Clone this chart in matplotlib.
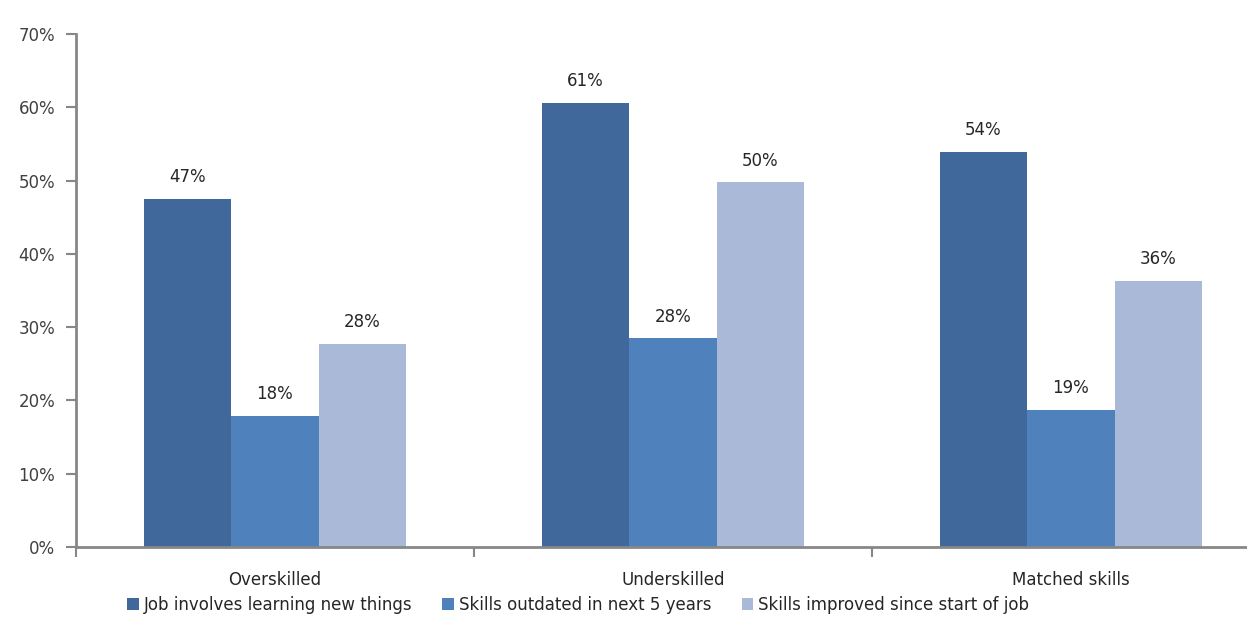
import numpy as np
import matplotlib
matplotlib.use("Agg")
import matplotlib.pyplot as plt
from matplotlib.patches import Patch

# Values (percent)
categories = ["Overskilled", "Underskilled", "Matched skills"]
series_names = ["Job involves learning new things",
                "Skills outdated in next 5 years",
                "Skills improved since start of job"]
learning_new = [47.5, 60.6, 53.9]
outdated_5yrs = [17.9, 28.5, 18.7]
improved_since = [27.7, 49.8, 36.3]
bar_labels = [["47%", "61%", "54%"],
              ["18%", "28%", "19%"],
              ["28%", "50%", "36%"]]
colors = ["#41689A", "#4F81BD", "#A9B9D7"]

fig = plt.figure(figsize=(12.47, 6.37), dpi=100)
# axis runs past the right edge of the picture, like the cropped original
ax = fig.add_axes([76 / 1247, 90 / 637, 1194 / 1247, 513 / 637])

x = np.arange(len(categories))
width = 0.22
series = [learning_new, outdated_5yrs, improved_since]
for i, vals in enumerate(series):
    bars = ax.bar(x + (i - 1) * width, vals, width, color=colors[i], label=series_names[i])
    ax.bar_label(bars, labels=bar_labels[i], padding=9, fontsize=12, color="#262626")

ax.set_xlim(-0.5, 2.5)
ax.set_ylim(0, 70)
ax.set_yticks(np.arange(0, 71, 10))
ax.set_yticklabels([f"{v}%" for v in range(0, 71, 10)])

ax.set_xticks(x)
ax.set_xticklabels(categories)
ax.set_xticks([-0.5, 0.5, 1.5], minor=True)
ax.tick_params(axis="x", which="major", length=0, pad=17, labelsize=12, labelcolor="#262626")
ax.tick_params(axis="x", which="minor", length=7, width=1.5, color="#878787")
ax.tick_params(axis="y", length=7, width=1.5, color="#878787", pad=8, labelsize=12, labelcolor="#404040")

for side in ["top", "right"]:
    ax.spines[side].set_visible(False)
for side in ["left", "bottom"]:
    ax.spines[side].set_color("#878787")
    ax.spines[side].set_linewidth(2)

handles = [Patch(facecolor=c, edgecolor="none") for c in colors]
fig.legend(handles, series_names, loc="center", bbox_to_anchor=(0.4637, 0.05), ncol=3,
           frameon=False, fontsize=12, handlelength=0.7, handleheight=0.7,
           handletextpad=0.3, columnspacing=1.8, labelcolor="#262626")

fig.savefig("out.png", dpi=100)
